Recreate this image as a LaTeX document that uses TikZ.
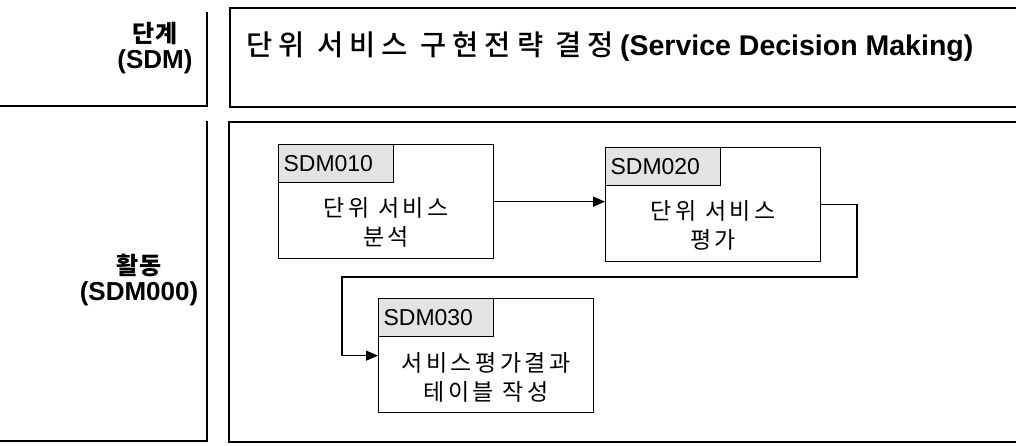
\documentclass[tikz,border=0pt]{standalone}
\usepackage{fontspec}
\setmainfont{Liberation Sans}
\newfontfamily\kr[LetterSpace=15]{Noto Sans CJK KR}
\newfontfamily\krsp[LetterSpace=21]{Noto Sans CJK KR Medium}
\newfontfamily\krb[LetterSpace=6]{Noto Sans CJK KR Bold}
\usetikzlibrary{arrows.meta}
\begin{document}
\begin{tikzpicture}[x=1pt,y=-1pt,
  frame/.style={line width=2pt},
  taskbox/.style={draw,line width=1.3pt,minimum width=215pt,minimum height=114pt,inner sep=0pt},
  codebox/.style={draw,line width=1.1pt,fill=gray!22,minimum width=115pt,minimum height=38pt,inner ysep=0pt,inner xsep=5pt,text width=105pt,align=left,font=\fontsize{23}{23}\selectfont,anchor=north west},
  tasktext/.style={align=center,font=\kr\fontsize{23}{29}\selectfont},
  headtext/.style={align=center,font=\fontsize{26}{26}\selectfont\bfseries},
  conn/.style={line width=1.3pt},
  arr/.style={conn,-{Triangle[length=12pt,width=10pt]}}
]
\useasboundingbox (0,0) rectangle (1016,445);
% left column
\coordinate (lt1) at (207,12);
\coordinate (lb1) at (207,106);
\coordinate (ll1) at (0,106);
\draw[frame] (lt1) -- (lb1) -- (ll1);
\coordinate (lt2) at (207,121);
\coordinate (lb2) at (207,441);
\coordinate (ll2) at (0,441);
\draw[frame] (lt2) -- (lb2) -- (ll2);
\node[headtext] (stage) at (155,48) {{\krb\fontsize{24}{24}\selectfont 단계}\\(SDM)};
\node[headtext] (act) at (139,280) {{\krb\fontsize{24}{24}\selectfont 활동}\\(SDM000)};
% right frames
\node[draw,frame,minimum width=800pt,minimum height=99pt,anchor=north west,inner sep=0pt] (topbox) at (229,7) {};
\node[draw,frame,minimum width=800pt,minimum height=320pt,anchor=north west,inner sep=0pt] (lowbox) at (228,121) {};
\node[font=\fontsize{28.5}{28.5}\selectfont] (title) at (610,47) {{\krsp 단위 서비스 구현전략 결정}\textbf{(Service Decision Making)}};
% tasks
\node[taskbox,anchor=north west] (t1) at (278,144) {};
\node[codebox] (c1) at (t1.north west) {SDM010};
\node[tasktext] (x1) at ([yshift=-21pt]t1.center) {단위 서비스\\분석};
\node[taskbox,anchor=north west] (t2) at (605,147) {};
\node[codebox] (c2) at (t2.north west) {SDM020};
\node[tasktext] (x2) at ([yshift=-21pt]t2.center) {단위 서비스\\평가};
\node[taskbox,anchor=north west] (t3) at (378,298) {};
\node[codebox] (c3) at (t3.north west) {SDM030};
\node[tasktext] (x3) at ([yshift=-22pt]t3.center) {서비스평가결과\\테이블 작성};
% connectors
\draw[arr] (t1.east) -- (t1.east -| t2.west);
\coordinate (r1) at (857,0);
\coordinate (yb) at (0,277);
\coordinate (lx) at (342,0);
\draw[arr] (t2.east) -- (t2.east -| r1) -- (yb -| r1) -- (yb -| lx) -- (t3.west -| lx) -- (t3.west);
\end{tikzpicture}
\end{document}
